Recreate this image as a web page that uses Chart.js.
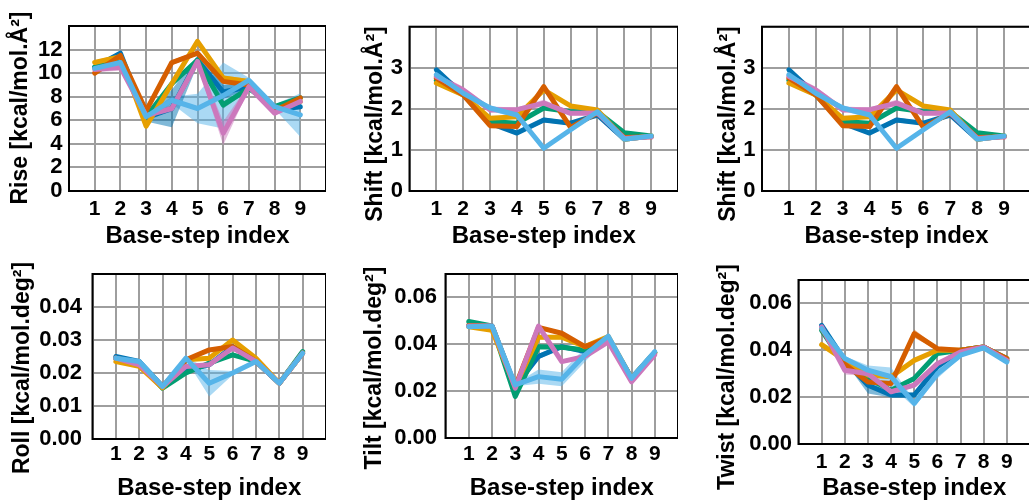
<!DOCTYPE html>
<html>
<head>
<meta charset="utf-8">
<script src="https://cdn.jsdelivr.net/npm/chart.js@4.4.1/dist/chart.umd.min.js"></script>
<style>
html,body{margin:0;padding:0;background:#fff;width:1029px;height:500px;overflow:hidden;position:relative;}
canvas{position:absolute;}
</style>
</head>
<body>
<script>
// ---------- DATA ----------
const steps = [1, 2, 3, 4, 5, 6, 7, 8, 9];
const seriesNames = ['s1', 's2', 's3', 's4', 's5', 's6'];
const seriesColors = ['#0173B2', '#E69F00', '#029E73', '#D55E00', '#CC78BC', '#56B4E9'];
const xLabel = 'Base-step index';

// order of rows: blue, orange, green, red, pink, light blue
const riseMean = [
  [10.5, 11.7, 6.2, 7.0, 11.1, 8.4, 8.85, 6.9, 7.15],
  [10.9, 11.4, 5.5, 9.1, 12.7, 9.6, 9.3, 6.9, 7.6],
  [10.5, 11.2, 6.3, 9.1, 11.1, 7.3, 8.7, 7.15, 7.9],
  [10.0, 11.5, 6.8, 10.9, 11.7, 9.3, 9.0, 6.8, 7.9],
  [10.3, 10.5, 6.4, 7.0, 11.0, 4.9, 8.85, 6.6, 7.6],
  [10.4, 10.9, 6.3, 7.7, 7.0, 8.1, 9.4, 7.15, 6.45]
];
const riseErr = [
  [0.2, 0.2, 0.3, 1.6, 0.4, 0.6, 0.2, 0.2, 0.2],
  [0.2, 0.2, 0.2, 0.2, 0.2, 0.2, 0.2, 0.2, 0.2],
  [0.2, 0.2, 0.2, 0.2, 0.2, 0.3, 0.2, 0.2, 0.2],
  [0.2, 0.2, 0.2, 0.2, 0.2, 0.2, 0.2, 0.2, 0.2],
  [0.2, 0.3, 0.2, 0.3, 0.3, 1.0, 0.2, 0.2, 0.2],
  [0.2, 0.2, 0.2, 0.3, 1.25, 2.8, 0.2, 0.2, 1.85]
];
const shiftMean = [
  [2.95, 2.34, 1.65, 1.41, 1.73, 1.65, 1.85, 1.26, 1.34],
  [2.63, 2.34, 1.77, 1.81, 2.46, 2.07, 1.97, 1.26, 1.34],
  [2.70, 2.34, 1.69, 1.65, 2.02, 1.93, 1.93, 1.42, 1.34],
  [2.75, 2.34, 1.59, 1.57, 2.54, 1.55, 1.90, 1.30, 1.32],
  [2.79, 2.46, 1.98, 1.98, 2.14, 1.89, 1.90, 1.28, 1.32],
  [2.83, 2.38, 2.02, 1.85, 1.04, 1.49, 1.93, 1.26, 1.34]
];
const shiftErr = [
  [0.04, 0.04, 0.04, 0.04, 0.06, 0.04, 0.04, 0.03, 0.03],
  [0.04, 0.04, 0.04, 0.04, 0.04, 0.04, 0.04, 0.03, 0.03],
  [0.04, 0.04, 0.04, 0.04, 0.04, 0.04, 0.04, 0.03, 0.03],
  [0.04, 0.04, 0.04, 0.04, 0.05, 0.04, 0.04, 0.03, 0.03],
  [0.08, 0.08, 0.08, 0.05, 0.08, 0.05, 0.04, 0.03, 0.03],
  [0.04, 0.04, 0.07, 0.07, 0.05, 0.05, 0.04, 0.03, 0.03]
];
const rollMean = [
  [0.0250, 0.0235, 0.0159, 0.0210, 0.0225, 0.0280, 0.0235, 0.0169, 0.0260],
  [0.0235, 0.0220, 0.0155, 0.0240, 0.0245, 0.0300, 0.0245, 0.0169, 0.0260],
  [0.0245, 0.0230, 0.0154, 0.0200, 0.0230, 0.0255, 0.0235, 0.0169, 0.0265],
  [0.0245, 0.0230, 0.0159, 0.0240, 0.0270, 0.0280, 0.0235, 0.0169, 0.0260],
  [0.0245, 0.0225, 0.0159, 0.0220, 0.0225, 0.0276, 0.0235, 0.0169, 0.0260],
  [0.0245, 0.0235, 0.0159, 0.0245, 0.0169, 0.0200, 0.0235, 0.0169, 0.0260]
];
const rollErr = [
  [0.0004, 0.0004, 0.0004, 0.0004, 0.0004, 0.0004, 0.0004, 0.0004, 0.0004],
  [0.0004, 0.0004, 0.0004, 0.0004, 0.0004, 0.0004, 0.0004, 0.0004, 0.0004],
  [0.0004, 0.0004, 0.0004, 0.0004, 0.0004, 0.0004, 0.0004, 0.0004, 0.0004],
  [0.0004, 0.0004, 0.0004, 0.0004, 0.0006, 0.0004, 0.0004, 0.0004, 0.0004],
  [0.0004, 0.0004, 0.0004, 0.0004, 0.0004, 0.0004, 0.0004, 0.0004, 0.0004],
  [0.0004, 0.0004, 0.0004, 0.0004, 0.0040, 0.0006, 0.0004, 0.0004, 0.0004]
];
const tiltMean = [
  [0.0480, 0.0478, 0.0220, 0.0348, 0.0390, 0.0369, 0.0426, 0.0255, 0.0365],
  [0.0475, 0.0460, 0.0220, 0.0430, 0.0430, 0.0390, 0.0433, 0.0255, 0.0365],
  [0.0497, 0.0478, 0.0177, 0.0390, 0.0387, 0.0376, 0.0426, 0.0255, 0.0365],
  [0.0480, 0.0478, 0.0220, 0.0472, 0.0447, 0.0390, 0.0426, 0.0255, 0.0360],
  [0.0478, 0.0478, 0.0213, 0.0478, 0.0326, 0.0348, 0.0410, 0.0240, 0.0355],
  [0.0475, 0.0478, 0.0227, 0.0262, 0.0251, 0.0355, 0.0435, 0.0255, 0.0369]
];
const tiltErr = [
  [0.0006, 0.0006, 0.0006, 0.0012, 0.0008, 0.0006, 0.0006, 0.0006, 0.0006],
  [0.0006, 0.0006, 0.0006, 0.0008, 0.0008, 0.0006, 0.0006, 0.0006, 0.0006],
  [0.0006, 0.0006, 0.0006, 0.0008, 0.0008, 0.0006, 0.0006, 0.0006, 0.0006],
  [0.0006, 0.0006, 0.0006, 0.0008, 0.0008, 0.0006, 0.0006, 0.0006, 0.0006],
  [0.0006, 0.0006, 0.0006, 0.0008, 0.0008, 0.0006, 0.0006, 0.0006, 0.0006],
  [0.0006, 0.0006, 0.0006, 0.0030, 0.0030, 0.0030, 0.0006, 0.0006, 0.0006]
];
const twistMean = [
  [0.0506, 0.0357, 0.0251, 0.0209, 0.0209, 0.0330, 0.0400, 0.0414, 0.0357],
  [0.0424, 0.0357, 0.0294, 0.0287, 0.0357, 0.0400, 0.0400, 0.0414, 0.0357],
  [0.0485, 0.0336, 0.0280, 0.0230, 0.0280, 0.0386, 0.0400, 0.0414, 0.0365],
  [0.0492, 0.0340, 0.0265, 0.0258, 0.0471, 0.0407, 0.0400, 0.0414, 0.0365],
  [0.0500, 0.0315, 0.0300, 0.0223, 0.0251, 0.0343, 0.0393, 0.0414, 0.0357],
  [0.0492, 0.0365, 0.0315, 0.0287, 0.0173, 0.0300, 0.0379, 0.0410, 0.0350]
];
const twistErr = [
  [0.0006, 0.0006, 0.0035, 0.0010, 0.0010, 0.0008, 0.0006, 0.0006, 0.0006],
  [0.0006, 0.0006, 0.0006, 0.0006, 0.0006, 0.0006, 0.0006, 0.0006, 0.0006],
  [0.0006, 0.0006, 0.0006, 0.0006, 0.0006, 0.0006, 0.0006, 0.0006, 0.0006],
  [0.0006, 0.0006, 0.0006, 0.0008, 0.0018, 0.0006, 0.0006, 0.0006, 0.0006],
  [0.0006, 0.0018, 0.0010, 0.0006, 0.0008, 0.0008, 0.0006, 0.0006, 0.0006],
  [0.0006, 0.0010, 0.0020, 0.0040, 0.0015, 0.0020, 0.0010, 0.0006, 0.0010]
];

const riseTicks = [0, 2, 4, 6, 8, 10, 12, 14];
const shiftTicks = [0, 1, 2, 3, 4];
const rollTicks = [0, 0.01, 0.02, 0.03, 0.04, 0.05];
const angTicks = [0, 0.02, 0.04, 0.06, 0.07];
const xTickVals = [0, 1, 2, 3, 4, 5, 6, 7, 8, 9, 10];

// ---------- LAYOUT (page pixels) ----------
const FONT = "'Liberation Sans', Arial, sans-serif";
const panels = [
  {mean: riseMean, err: riseErr, yt: riseTicks, ylab: 'Rise [kcal/mol.Å²]', lastLab: 12, dec: 0,
   cl: 69, ct: 26, cr: 326, cb: 191, tx: 21, ty: 108, T: 0, hx: 60, yPad: 6.5, xPad: 6},
  {mean: shiftMean, err: shiftErr, yt: shiftTicks, ylab: 'Shift [kcal/mol.Å²]', lastLab: 3, dec: 0,
   cl: 409.5, ct: 26.7, cr: 678, cb: 191, tx: 376, ty: 124, T: 0, hx: 60, yPad: 6.5, xPad: 6},
  {mean: shiftMean, err: shiftErr, yt: shiftTicks, ylab: 'Shift [kcal/mol.Å²]', lastLab: 3, dec: 0,
   cl: 762, ct: 26.7, cr: 1031, cb: 191, tx: 729, ty: 124, T: 0, hx: 60, yPad: 6.5, xPad: 6},
  {mean: rollMean, err: rollErr, yt: rollTicks, ylab: 'Roll [kcal/mol.deg²]', lastLab: 0.04, dec: 2,
   cl: 92.5, ct: 274, cr: 325.5, cb: 439, tx: 23, ty: 368, T: 245, hx: 64, yPad: 10.5, xPad: 3},
  {mean: tiltMean, err: tiltErr, yt: angTicks, ylab: 'Tilt [kcal/mol.deg²]', lastLab: 0.06, dec: 2,
   cl: 445.5, ct: 274, cr: 678, cb: 438.3, tx: 375, ty: 368, T: 245, hx: 65, yPad: 8.5, xPad: 3.5},
  {mean: twistMean, err: twistErr, yt: angTicks, ylab: 'Twist [kcal/mol.deg²]', lastLab: 0.06, dec: 2,
   cl: 798.5, ct: 280, cr: 1030, cb: 444, tx: 728, ty: 377, T: 245, hx: 59, yPad: 6.5, xPad: 6}
];

function hexA(hex, a) {
  const n = parseInt(hex.slice(1), 16);
  return `rgba(${(n >> 16) & 255},${(n >> 8) & 255},${n & 255},${a})`;
}

const framePlugin = {
  id: 'frame',
  afterDraw(chart) {
    const {ctx, chartArea: a} = chart;
    ctx.save();
    ctx.strokeStyle = '#000';
    ctx.lineWidth = 2;
    ctx.strokeRect(a.left, a.top, a.right - a.left, a.bottom - a.top);
    ctx.restore();
  }
};

// vertical axis title drawn at its own spot (can extend beyond the plot height)
const yTitlePlugin = {
  id: 'yTitle',
  afterDraw(chart, args, opts) {
    const {ctx} = chart;
    ctx.save();
    ctx.translate(opts.x, opts.y);
    ctx.rotate(-Math.PI / 2);
    ctx.fillStyle = '#000';
    ctx.font = `bold 23px ${FONT}`;
    ctx.textAlign = 'center';
    ctx.textBaseline = 'middle';
    ctx.fillText(opts.text, 0, 0);
    ctx.restore();
  }
};

const lineOrder = [5, 3, 4, 2, 1, 0]; // lower = drawn on top

panels.forEach((p) => {
  const L = Math.round(p.tx - 16);
  const W = Math.round(p.cr - L);
  const H = Math.round(p.cb - p.T + p.hx);
  const wy = p.cl - L;
  const cv = document.createElement('canvas');
  cv.width = W; cv.height = H;
  cv.style.left = L + 'px'; cv.style.top = p.T + 'px';
  cv.style.width = W + 'px'; cv.style.height = H + 'px';
  document.body.appendChild(cv);

  const datasets = [];
  p.mean.forEach((m, si) => {
    const e = p.err[si];
    const upIdx = datasets.length;
    datasets.push({
      label: seriesNames[si] + ' hi',
      data: steps.map((x, i) => ({x, y: m[i] + e[i]})),
      borderWidth: 0, pointRadius: 0, fill: false, order: 20 + si
    });
    datasets.push({
      label: seriesNames[si] + ' lo',
      data: steps.map((x, i) => ({x, y: m[i] - e[i]})),
      borderWidth: 0, pointRadius: 0, fill: upIdx,
      backgroundColor: hexA(seriesColors[si], 0.5), order: 20 + si
    });
  });
  p.mean.forEach((m, si) => {
    datasets.push({
      label: seriesNames[si],
      data: steps.map((x, i) => ({x, y: m[i]})),
      borderColor: seriesColors[si], borderWidth: 5,
      borderJoinStyle: 'round', borderCapStyle: 'round',
      pointRadius: 0, fill: false, tension: 0, order: lineOrder[si]
    });
  });

  const ymax = p.yt[p.yt.length - 1];
  new Chart(cv, {
    type: 'line',
    data: {datasets},
    plugins: [framePlugin, yTitlePlugin],
    options: {
      responsive: false, animation: false, devicePixelRatio: 1,
      layout: {padding: {top: p.ct - p.T, left: 0, right: 0, bottom: 0}},
      plugins: {
        legend: {display: false}, tooltip: {enabled: false},
        yTitle: {text: p.ylab, x: p.tx - L, y: p.ty - p.T}
      },
      scales: {
        x: {
          type: 'linear', min: 0, max: 10,
          afterBuildTicks: s => { s.ticks = xTickVals.map(v => ({value: v})); },
          ticks: {
            autoSkip: false, maxRotation: 0, minRotation: 0, padding: p.xPad, color: '#000',
            font: {family: FONT, size: 21, weight: 'bold'},
            callback: v => (v >= 1 && v <= 9) ? String(v) : ''
          },
          grid: {color: '#9e9e9e', lineWidth: 2, drawTicks: false},
          border: {display: false},
          title: {display: true, text: xLabel, color: '#000', padding: 0,
                  font: {family: FONT, size: 24, weight: 'bold'}},
          afterFit: s => { s.height = p.hx; s.paddingLeft = 0; s.paddingRight = 0; }
        },
        y: {
          type: 'linear', min: 0, max: ymax,
          afterBuildTicks: s => { s.ticks = p.yt.map(v => ({value: v})); },
          ticks: {
            autoSkip: false, padding: p.yPad, color: '#000',
            font: {family: FONT, size: 22, weight: 'bold'},
            callback: v => (v <= p.lastLab + 1e-9) ? v.toFixed(p.dec) : ''
          },
          grid: {color: '#9e9e9e', lineWidth: 2, drawTicks: false},
          border: {display: false},
          title: {display: false},
          afterFit: s => { s.width = wy; s.paddingTop = 0; s.paddingBottom = 0; }
        }
      }
    }
  });
});
</script>
</body>
</html>
